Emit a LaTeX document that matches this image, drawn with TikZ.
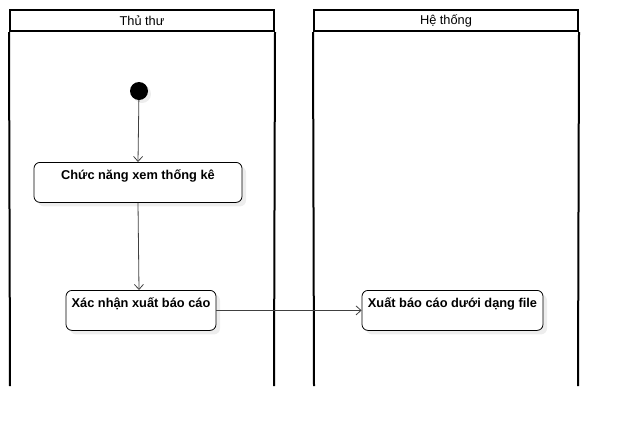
\documentclass[tikz,border=0pt]{standalone}
\usepackage{fontspec}
\setmainfont{Liberation Sans}
\usetikzlibrary{arrows.meta,shadows}

\begin{document}
\begin{tikzpicture}[x=1pt,y=-1pt,
    lanehead/.style={draw=black,line width=2pt,rectangle,inner sep=0pt,minimum width=264pt,minimum height=21pt,font=\fontsize{12.8}{14}\selectfont},
    action/.style={draw=black,line width=0.8pt,rounded corners=6pt,fill=white,inner sep=0pt,font=\bfseries\fontsize{12.8}{14}\selectfont,
        drop shadow={shadow xshift=4pt,shadow yshift=-4pt,fill=black!7,opacity=1}},
    flow/.style={draw=black!75,line width=0.8pt,-{Straight Barb[length=5pt,width=9pt]}}]
            \useasboundingbox (0,0) rectangle (618,426);

            \node[lanehead] (lane1) at (142,20.5) {Thủ thư};
            \node[lanehead] (lane2) at (446,20.5) {Hệ thống};
            \coordinate (l1a) at (10,386);
            \coordinate (l1b) at (274,386);
            \coordinate (l2a) at (314,386);
            \coordinate (l2b) at (578,386);
            \draw[line width=2pt] (lane1.south west) -- (l1a);
            \draw[line width=2pt] (lane1.south east) -- (l1b);
            \draw[line width=2pt] (lane2.south west) -- (l2a);
            \draw[line width=2pt] (lane2.south east) -- (l2b);

            \node[circle,fill=black,inner sep=0pt,minimum size=18pt,drop shadow={shadow xshift=3pt,shadow yshift=-3pt,fill=black!7,opacity=1}] (start) at (139,91) {};
            \node[action,minimum width=208pt,text height=17.5pt,text depth=22.5pt] (thongke) at (138,162) [anchor=north] {Chức năng xem thống kê};
            \node[action,minimum width=150pt,text height=17pt,text depth=23pt] (xacnhan) at (141,290) [anchor=north] {Xác nhận xuất báo cáo};
            \node[action,minimum width=181pt,text height=17pt,text depth=23pt] (xuatfile) at (452.5,290) [anchor=north] {Xuất báo cáo dưới dạng file};
            \coordinate (xacnhantop) at (139,290);

            \draw[flow] (start) -- (thongke.north);
            \draw[flow] (thongke.south) -- (xacnhantop);
            \draw[flow] (xacnhan) -- (xuatfile);
        \end{tikzpicture}
\end{document}
